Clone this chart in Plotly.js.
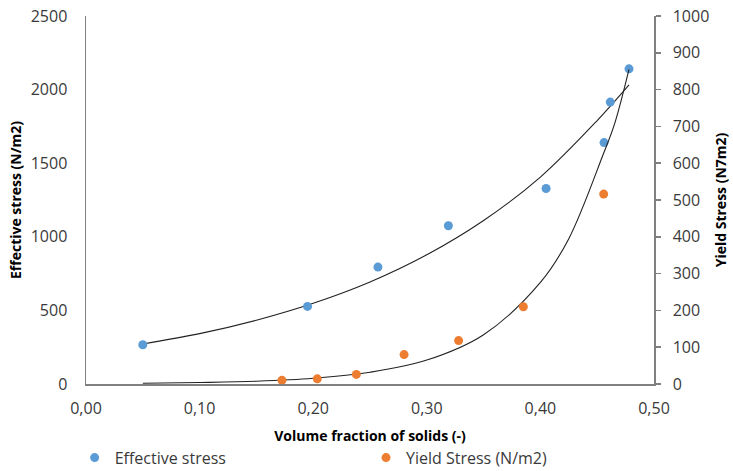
<!DOCTYPE html>
<html>
<head>
<meta charset="utf-8">
<script src="https://cdn.plot.ly/plotly-3.0.1.min.js"></script>
<style>html,body{margin:0;padding:0;background:#fff;}#chart{width:733px;height:471px;}</style>
</head>
<body>
<div id="chart"></div>
<script>
// Measured points
var effX = [0.050, 0.195, 0.257, 0.319, 0.405, 0.456, 0.4615, 0.478];
var effY = [267, 527, 794, 1075, 1328, 1640, 1915, 2141];
var yieldX = [0.1725, 0.2036, 0.238, 0.280, 0.328, 0.385, 0.4557];
var yieldY = [10, 14, 26, 80, 118, 210, 516];

// Trendlines
var effTrendX = [0.05, 0.10, 0.15, 0.20, 0.25, 0.30, 0.35, 0.40, 0.45, 0.478];
var effTrendY = [272, 342, 433, 548, 693, 878, 1111, 1406, 1790, 2032];
var yieldTrendX = [0.05, 0.10, 0.15, 0.20, 0.25, 0.30, 0.35, 0.40, 0.425, 0.4554, 0.465, 0.478];
var yieldTrendY = [2, 4, 7.5, 15.5, 32, 65, 134, 276, 395, 625, 704, 855];

var seriesNames = ['Effective stress', 'Yield Stress (N/m2)'];
var leftTitle = 'Effective stress (N/m2)';
var rightTitle = 'Yield Stress (N7m2)';
var xTitle = 'Volume fraction of solids (-)';

var font = 'Open Sans, Noto Sans, sans-serif';
var txt = '#3a3a3a';

var data = [
  {x: effTrendX, y: effTrendY, type: 'scatter', mode: 'lines', line: {color: '#222', width: 1.1, shape: 'spline'}, showlegend: false, hoverinfo: 'skip', yaxis: 'y'},
  {x: yieldTrendX, y: yieldTrendY, type: 'scatter', mode: 'lines', line: {color: '#222', width: 1.1, shape: 'spline'}, showlegend: false, hoverinfo: 'skip', yaxis: 'y2'},
  {x: effX, y: effY, name: seriesNames[0], type: 'scatter', mode: 'markers', marker: {color: '#5B9BD5', size: 9}, yaxis: 'y', legend: 'legend'},
  {x: yieldX, y: yieldY, name: seriesNames[1], type: 'scatter', mode: 'markers', marker: {color: '#ED7D31', size: 9}, yaxis: 'y2', legend: 'legend2'}
];

var legendBase = {orientation: 'h', xanchor: 'left', y: -0.154, yanchor: 'top', font: {size: 16, color: txt}, itemwidth: 30, bgcolor: 'rgba(0,0,0,0)'};

var layout = {
  width: 733, height: 471,
  margin: {l: 86, r: 79, t: 16, b: 87, autoexpand: false},
  paper_bgcolor: '#fff', plot_bgcolor: '#fff',
  separators: ',.',
  font: {family: font, size: 16, color: txt},
  showlegend: true,
  legend: Object.assign({}, legendBase, {x: -0.02}),
  legend2: Object.assign({}, legendBase, {x: 0.493}),
  xaxis: {
    range: [0, 0.5], dtick: 0.1, tick0: 0, tickformat: '.2f',
    showgrid: false, zeroline: false, showline: true, linecolor: '#808080', linewidth: 1.5,
    ticks: '', ticklabelstandoff: 9,
    tickfont: {size: 16, color: txt},
    title: {text: xTitle, font: {size: 14, color: '#000', weight: 'bold'}, standoff: 13}
  },
  yaxis: {
    range: [0, 2500], dtick: 500, tick0: 0,
    showgrid: false, zeroline: false, showline: true, linecolor: '#808080', linewidth: 1.5,
    ticks: '', ticklabelstandoff: 14,
    tickfont: {size: 16, color: txt},
    title: {text: leftTitle, font: {size: 14, color: '#000', weight: 'bold'}, standoff: 6}
  },
  yaxis2: {
    range: [0, 1000], dtick: 100, tick0: 0, overlaying: 'y', side: 'right',
    showgrid: false, zeroline: false, showline: true, linecolor: '#808080', linewidth: 1.5,
    ticks: 'outside', ticklen: 5, tickcolor: '#808080', tickwidth: 1.5, ticklabelstandoff: 9,
    tickfont: {size: 16, color: txt},
    title: {text: rightTitle, font: {size: 14, color: '#000', weight: 'bold'}, standoff: 8}
  }
};

Plotly.newPlot('chart', data, layout, {displayModeBar: false, staticPlot: true});
</script>
</body>
</html>
